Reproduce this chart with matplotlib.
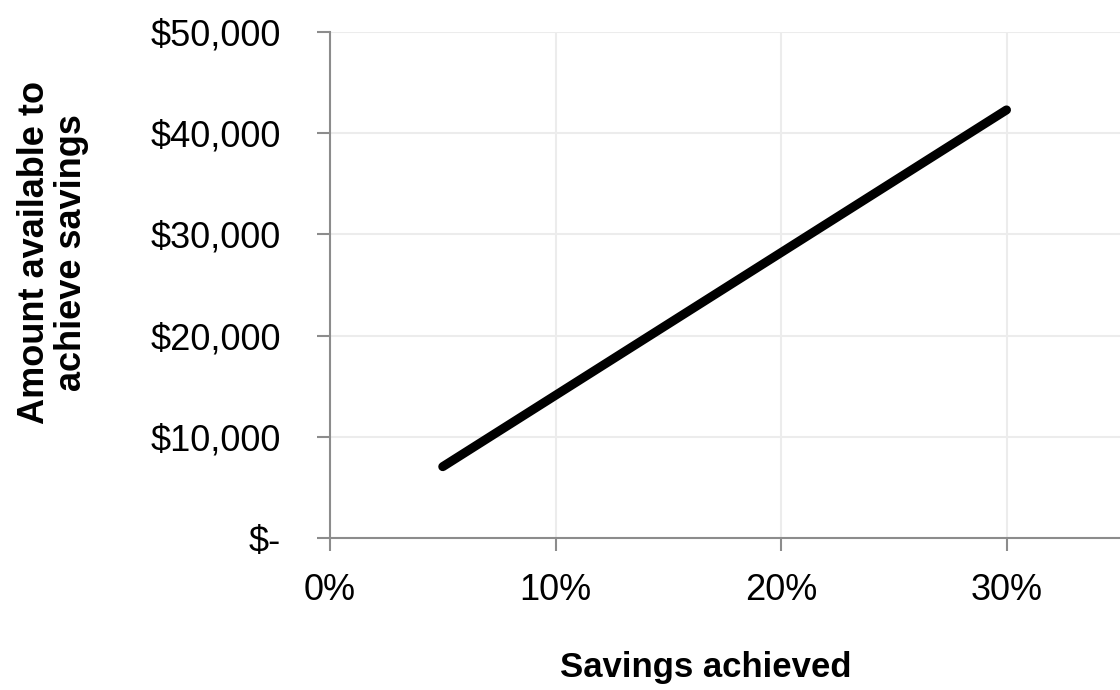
import matplotlib
matplotlib.use("Agg")
import matplotlib.pyplot as plt
from matplotlib.ticker import FuncFormatter

savings = [0.05, 0.10, 0.15, 0.20, 0.25, 0.30]
amount = [7050, 14100, 21150, 28200, 35250, 42300]
x_ticks = [0.0, 0.10, 0.20, 0.30]
y_ticks = [0, 10000, 20000, 30000, 40000, 50000]
x_label = "Savings achieved"
y_label = "Amount available to\nachieve savings"

FONT = ["Liberation Sans Narrow", "Liberation Sans", "DejaVu Sans"]
plt.rcParams["font.family"] = FONT

W, H = 1120, 690
fig = plt.figure(figsize=(W / 100, H / 100), dpi=100)
# axes: left spine at x=330, bottom at y=538, top at y=32, 10% = 225.5 px
left, right = 330, 330 + 225.5 * 4
bottom, top = 538, 32
ax = fig.add_axes([left / W, 1 - bottom / H, (right - left) / W, (bottom - top) / H])

ax.plot(savings, amount, color="black", lw=6.5, solid_capstyle="round")

ax.set_xlim(0, 0.40)
ax.set_ylim(0, 50000)
ax.set_xticks(x_ticks)
ax.set_yticks(y_ticks)
ax.xaxis.set_major_formatter(FuncFormatter(lambda v, p: f"{v*100:.0f}%"))
ax.yaxis.set_major_formatter(FuncFormatter(lambda v, p: "$-" if v == 0 else f"${v:,.0f}"))

ax.grid(True, color="#ececec", lw=1.5)
ax.set_axisbelow(True)
for s in ["top", "right"]:
    ax.spines[s].set_visible(False)
for s in ["left", "bottom"]:
    ax.spines[s].set_color("#8c8c8c")
    ax.spines[s].set_linewidth(1.5)

ax.tick_params(axis="both", colors="#8c8c8c", length=9.5, width=1.5, labelcolor="black", labelsize=26)
ax.tick_params(axis="y", pad=26)
ax.tick_params(axis="x", pad=16)

fig.text(706 / W, 1 - 668 / H, x_label, ha="center", va="center", fontsize=25, fontweight="bold")
fig.text(53 / W, 1 - 253 / H, y_label, ha="center", va="center", rotation=90, fontsize=26,
         fontweight="bold", linespacing=1.05, multialignment="center")

fig.savefig("out.png", dpi=100)
